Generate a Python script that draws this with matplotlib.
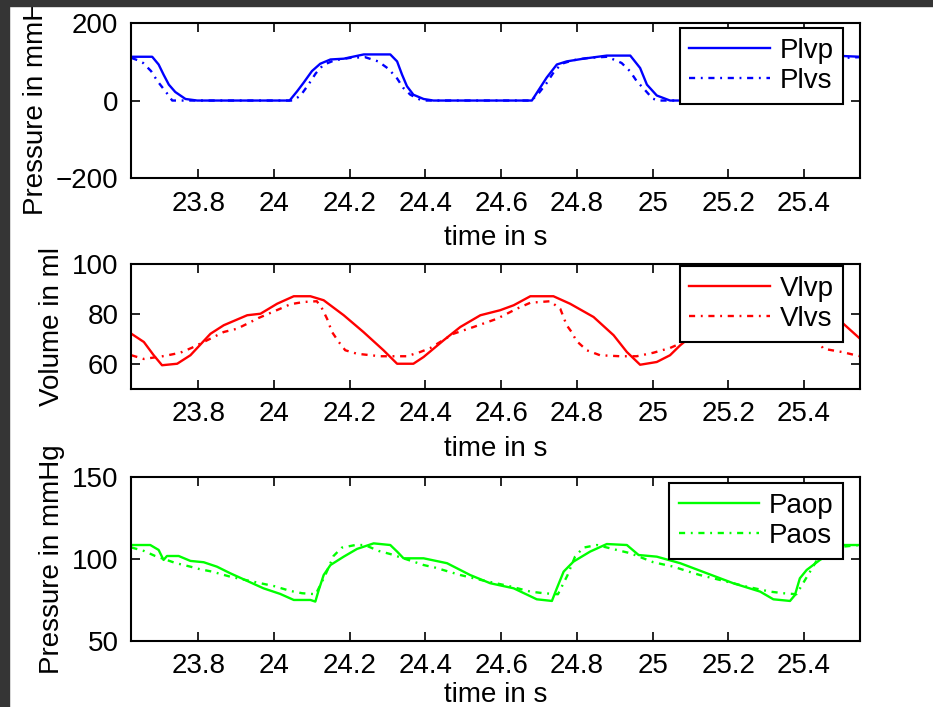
import matplotlib
matplotlib.use("Agg")
import matplotlib.pyplot as plt
from matplotlib.patches import Rectangle

plt.rcParams['font.family'] = ['Liberation Sans', 'DejaVu Sans']
plt.rcParams['font.size'] = 20

# left ventricular pressure (mmHg)
t_plvp = [23.623, 23.678, 23.695, 23.708, 23.722, 23.739, 23.766, 23.797, 24.041, 24.061,
          24.078, 24.100, 24.122, 24.149, 24.184, 24.237, 24.307, 24.325, 24.338, 24.351,
          24.368, 24.395, 24.421, 24.681, 24.720, 24.747, 24.773, 24.817, 24.879, 24.941,
          24.967, 24.985, 25.011, 25.046, 25.321, 25.345, 25.370, 25.400, 25.440, 25.500, 25.548]
plvp = [113, 113, 93, 67, 41, 22, 4, 0, 0, 24,
        46, 76, 95, 106, 108, 119, 119, 101, 67, 37,
        15, 4, 0, 0, 59, 93, 101, 108, 116, 116,
        84, 41, 13, 0, 0, 45, 90, 105, 110, 115, 113]

t_plvs = [23.623, 23.640, 23.654, 23.675, 23.692, 23.716, 23.731, 24.050, 24.070, 24.090,
          24.110, 24.130, 24.160, 24.200, 24.240, 24.275, 24.302, 24.325, 24.341, 24.360,
          24.386, 24.400, 24.680, 24.700, 24.720, 24.740, 24.760, 24.790, 24.830, 24.880,
          24.918, 24.940, 24.958, 24.980, 25.000, 25.015, 25.330, 25.360, 25.390, 25.420,
          25.460, 25.548]
plvs = [110, 104, 97, 76, 50, 20, 0, 0, 13, 40,
        70, 92, 104, 110, 112, 101, 82, 57, 33, 15,
        2, 0, 0, 20, 45, 75, 95, 104, 110, 113,
        97, 76, 50, 27, 5, 0, 0, 30, 75, 100,
        108, 112]

# left ventricular volume (ml)
t_vlvp = [23.623, 23.656, 23.682, 23.704, 23.744, 23.779, 23.832, 23.867, 23.929, 23.964,
          24.008, 24.052, 24.096, 24.131, 24.184, 24.236, 24.289, 24.325, 24.368, 24.395,
          24.448, 24.492, 24.545, 24.597, 24.633, 24.677, 24.738, 24.782, 24.844, 24.897,
          24.932, 24.967, 25.011, 25.046, 25.073, 25.132, 25.185, 25.237, 25.273, 25.317,
          25.378, 25.422, 25.484, 25.504, 25.548]
vlvp = [72.1, 68.8, 63.5, 59.5, 60.1, 63.5, 72.1, 75.5, 79.5, 80.1,
        84.1, 87.1, 87.1, 85.5, 79.5, 72.8, 65.5, 60.1, 60.1, 62.8,
        69.5, 74.8, 79.5, 81.5, 83.5, 87.1, 87.1, 84.1, 78.8, 71.5,
        64.8, 59.7, 60.8, 63.5, 67.5, 74.8, 79.5, 81.5, 83.5, 87.1,
        87.1, 84.1, 78.8, 76.1, 70.1]

t_vlvs = [23.623, 23.656, 23.710, 23.752, 23.783, 23.830, 23.867, 23.902, 23.929, 23.959,
          24.016, 24.043, 24.078, 24.113, 24.127, 24.140, 24.153, 24.171, 24.188, 24.219,
          24.280, 24.351, 24.386, 24.413, 24.474, 24.527, 24.589, 24.641, 24.677, 24.729,
          24.756, 24.773, 24.786, 24.799, 24.826, 24.861, 24.914, 24.958, 25.002, 25.046,
          25.100, 25.170, 25.230, 25.300, 25.370, 25.400, 25.425, 25.451, 25.500, 25.548]
vlvs = [63.5, 62.0, 63.2, 64.5, 66.5, 70.0, 72.8, 74.1, 76.1, 78.4,
        82.1, 83.9, 84.8, 85.1, 82.1, 78.1, 72.8, 68.8, 65.5, 64.1,
        63.1, 63.1, 64.8, 66.4, 72.1, 74.8, 78.1, 82.1, 84.5, 85.1,
        82.1, 75.5, 72.8, 69.2, 65.5, 63.5, 63.1, 63.1, 64.5, 66.4,
        70.0, 75.0, 79.0, 83.0, 85.0, 81.0, 72.0, 66.1, 64.8, 63.1]

# aortic pressure (mmHg)
t_paop = [23.623, 23.673, 23.695, 23.708, 23.717, 23.748, 23.779, 23.814, 23.849, 23.884,
          23.929, 23.972, 24.016, 24.052, 24.096, 24.109, 24.118, 24.131, 24.149, 24.184,
          24.219, 24.263, 24.307, 24.325, 24.342, 24.395, 24.457, 24.518, 24.571, 24.633,
          24.694, 24.734, 24.747, 24.765, 24.791, 24.835, 24.879, 24.932, 24.963, 25.011,
          25.073, 25.143, 25.213, 25.284, 25.319, 25.363, 25.376, 25.389, 25.407, 25.442,
          25.468, 25.503, 25.548]
paop = [108.5, 108.5, 105.5, 99.4, 101.8, 101.8, 98.8, 98.0, 95.3, 91.3,
        86.6, 82.1, 78.7, 75.0, 75.0, 74.0, 81.1, 90.2, 96.3, 101.4,
        106.1, 109.5, 108.5, 104.5, 100.4, 100.4, 97.4, 90.2, 85.2, 82.1,
        75.4, 74.4, 82.1, 92.3, 98.4, 104.5, 109.1, 108.5, 102.4, 101.4,
        97.4, 91.3, 85.2, 80.1, 75.4, 74.4, 78.0, 88.2, 93.3, 99.4,
        103.0, 108.5, 108.5]

t_paos = [23.623, 23.656, 23.686, 23.740, 23.779, 23.805, 23.836, 23.884, 23.964, 23.999,
          24.043, 24.074, 24.110, 24.135, 24.157, 24.179, 24.215, 24.240, 24.276, 24.307,
          24.368, 24.395, 24.426, 24.461, 24.492, 24.550, 24.620, 24.677, 24.712, 24.750,
          24.775, 24.795, 24.817, 24.853, 24.905, 24.941, 25.002, 25.055, 25.095, 25.125,
          25.178, 25.249, 25.310, 25.345, 25.380, 25.410, 25.440, 25.480, 25.548]
paos = [107.0, 104.9, 101.8, 97.5, 95.3, 93.7, 92.3, 89.2, 85.2, 83.5,
        80.5, 79.1, 78.5, 90.0, 101.8, 106.9, 108.5, 108.5, 104.9, 103.0,
        98.4, 96.3, 94.7, 92.3, 90.2, 87.0, 83.5, 80.1, 79.1, 78.5,
        90.0, 101.4, 106.9, 108.5, 105.5, 103.5, 98.0, 95.3, 92.3, 90.2,
        87.2, 83.1, 80.1, 79.1, 78.5, 90.0, 101.5, 107.0, 108.5]

xticks = [23.8, 24.0, 24.2, 24.4, 24.6, 24.8, 25.0, 25.2, 25.4]
xticklabels = ['23.8', '24', '24.2', '24.4', '24.6', '24.8', '25', '25.2', '25.4']

panels = [
    dict(rect=[0.1404, 0.7482, 0.7814, 0.2192], ylim=(-200, 200), yticks=[-200, 0, 200],
         ylabel='Pressure in mmHg', color=(0, 0, 1), legend_top=0.968, xpad=6,
         series=[(t_plvp, plvp, 'Plvp'), (t_plvs, plvs, 'Plvs')]),
    dict(rect=[0.1404, 0.4498, 0.7814, 0.1768], ylim=(50, 100), yticks=[60, 80, 100],
         ylabel='Volume in ml', color=(1, 0, 0), legend_top=0.984, xpad=6,
         series=[(t_vlvp, vlvp, 'Vlvp'), (t_vlvs, vlvs, 'Vlvs')]),
    dict(rect=[0.1404, 0.0934, 0.7814, 0.2320], ylim=(50, 150), yticks=[50, 100, 150],
         ylabel='Pressure in mmHg', color=(0, 1, 0), legend_top=0.963, xpad=2,
         series=[(t_paop, paop, 'Paop'), (t_paos, paos, 'Paos')]),
]

fig = plt.figure(figsize=(9.33, 7.07), dpi=100)

for p in panels:
    ax = fig.add_axes(p['rect'])
    (t1, v1, l1), (t2, v2, l2) = p['series']
    ax.plot(t1, v1, color=p['color'], lw=1.7, label=l1)
    ax.plot(t2, v2, color=p['color'], lw=1.7, linestyle=(0, (2.6, 2.4, 0.8, 2.4)), label=l2)
    ax.set_xlim(23.622, 25.548)
    ax.set_ylim(*p['ylim'])
    ax.set_xticks(xticks)
    ax.set_xticklabels(xticklabels)
    ax.set_yticks(p['yticks'])
    ax.tick_params(direction='in', top=True, right=True, length=6.5, width=1.2,
                   pad=9, labelsize=20)
    for s in ax.spines.values():
        s.set_linewidth(1.5)
    ax.set_xlabel('time in s', labelpad=p['xpad'])
    ax.set_ylabel(p['ylabel'], labelpad=5)
    leg = ax.legend(loc='upper right', bbox_to_anchor=(0.977, p['legend_top']),
                    fancybox=False, framealpha=1, edgecolor='black', handlelength=2.9,
                    handletextpad=0.35, borderpad=0.35, labelspacing=0.15,
                    borderaxespad=0, fontsize=20)
    leg.get_frame().set_linewidth(1.5)

# dark screenshot border on the top and left
fig.patches.append(Rectangle((0, 1 - 6 / 707), 1, 6 / 707, transform=fig.transFigure,
                             color='#353535', zorder=10))
fig.patches.append(Rectangle((0, 0), 9 / 933, 1, transform=fig.transFigure,
                             color='#353535', zorder=10))

fig.savefig('out.png', dpi=100)
